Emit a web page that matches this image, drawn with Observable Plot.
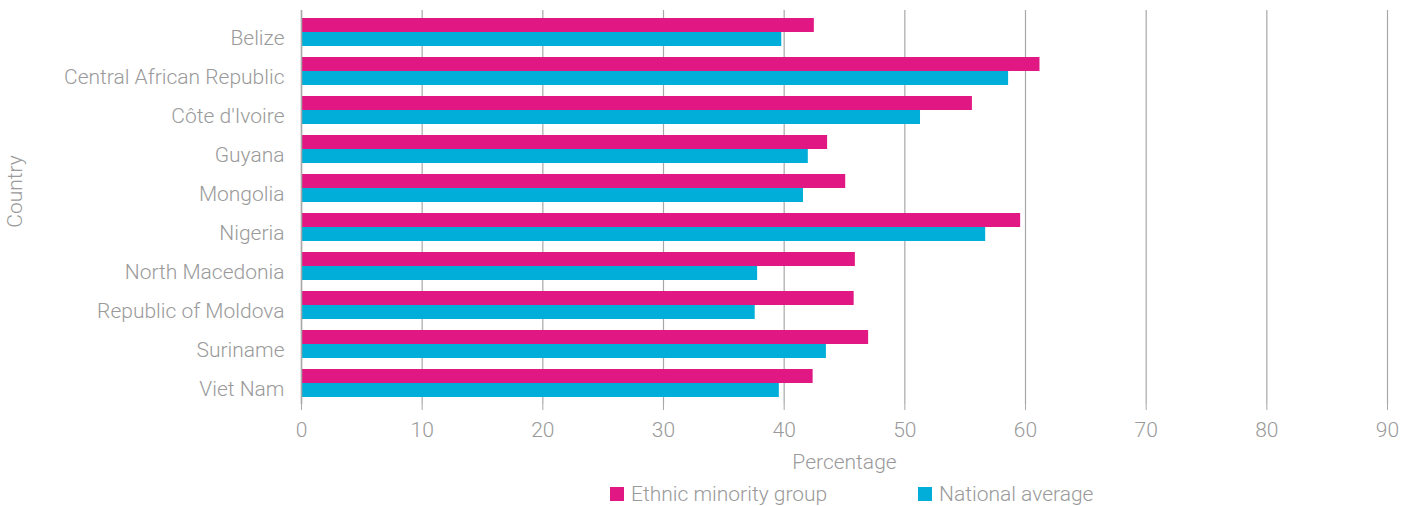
<!DOCTYPE html>
<html>
<head>
<meta charset="utf-8">
<script src="https://cdn.jsdelivr.net/npm/d3@7"></script>
<script src="https://cdn.jsdelivr.net/npm/@observablehq/plot@0.6"></script>
<style>
  html, body { margin: 0; padding: 0; background: #fff; }
  body { width: 1413px; height: 506px; overflow: hidden; font-family: Roboto, sans-serif; font-weight: 300; }
  #legend { position: relative; height: 28px; }
  .item { position: absolute; top: 4px; display: flex; align-items: center; font-size: 21px; color: #9a9a9a; }
  .sw { width: 14px; height: 14px; margin-right: 7px; }
</style>
</head>
<body>
<div id="chart"></div>
<div id="legend"></div>
<script>
const countries = ["Belize", "Central African Republic", "Côte d'Ivoire", "Guyana", "Mongolia", "Nigeria", "North Macedonia", "Republic of Moldova", "Suriname", "Viet Nam"];
const ethnicMinority = [42.5, 61.2, 55.6, 43.6, 45.1, 59.6, 45.9, 45.8, 47.0, 42.4];
const nationalAverage = [39.8, 58.6, 51.3, 42.0, 41.6, 56.7, 37.8, 37.6, 43.5, 39.6];
const seriesNames = ["Ethnic minority group", "National average"];
const seriesColors = ["#e11783", "#00aed9"];
const xTicks = [0, 10, 20, 30, 40, 50, 60, 70, 80, 90];

const ethnicData = countries.map((c, i) => ({country: c, value: ethnicMinority[i], series: seriesNames[0]}));
const nationalData = countries.map((c, i) => ({country: c, value: nationalAverage[i], series: seriesNames[1]}));

const chart = Plot.plot({
  width: 1413,
  height: 478,
  marginLeft: 301,
  marginRight: 26,
  marginTop: 10,
  marginBottom: 74,
  style: {fontFamily: "Roboto, sans-serif", fontWeight: 300, fontSize: "21px", color: "#9a9a9a", background: "#fff"},
  x: {domain: [0, 90]},
  y: {domain: countries, paddingInner: 0.284, paddingOuter: 0.18},
  color: {domain: seriesNames, range: seriesColors},
  marks: [
    Plot.gridX(xTicks, {stroke: "#a8a8a8", strokeOpacity: 1, strokeWidth: 1.2}),
    Plot.barX(ethnicData, {y: "country", x: "value", fill: "series", insetBottom: 14}),
    Plot.barX(nationalData, {y: "country", x: "value", fill: "series", insetTop: 14}),
    Plot.ruleX([0], {stroke: "#a8a8a8", strokeWidth: 1.5}),
    Plot.axisX({ticks: xTicks, tickSize: 6, tickPadding: 12, stroke: "#a8a8a8", fontSize: 21, label: "Percentage", labelAnchor: "center", labelOffset: 64, labelArrow: "none"}),
    Plot.axisY({tickSize: 0, tickPadding: 17, dy: 6, fontSize: 21, label: null}),
    Plot.text(["Country"], {frameAnchor: "left", textAnchor: "middle", rotate: -90, dx: -286, dy: -16, fill: "#9a9a9a", fontSize: 21})
  ]
});
document.getElementById("chart").appendChild(chart);

const legend = document.getElementById("legend");
const lefts = [610, 918];
seriesNames.forEach((name, i) => {
  const item = document.createElement("div");
  item.className = "item";
  item.style.left = lefts[i] + "px";
  const sw = document.createElement("span");
  sw.className = "sw";
  sw.style.background = seriesColors[i];
  const t = document.createElement("span");
  t.textContent = name;
  item.appendChild(sw);
  item.appendChild(t);
  legend.appendChild(item);
});
</script>
</body>
</html>
